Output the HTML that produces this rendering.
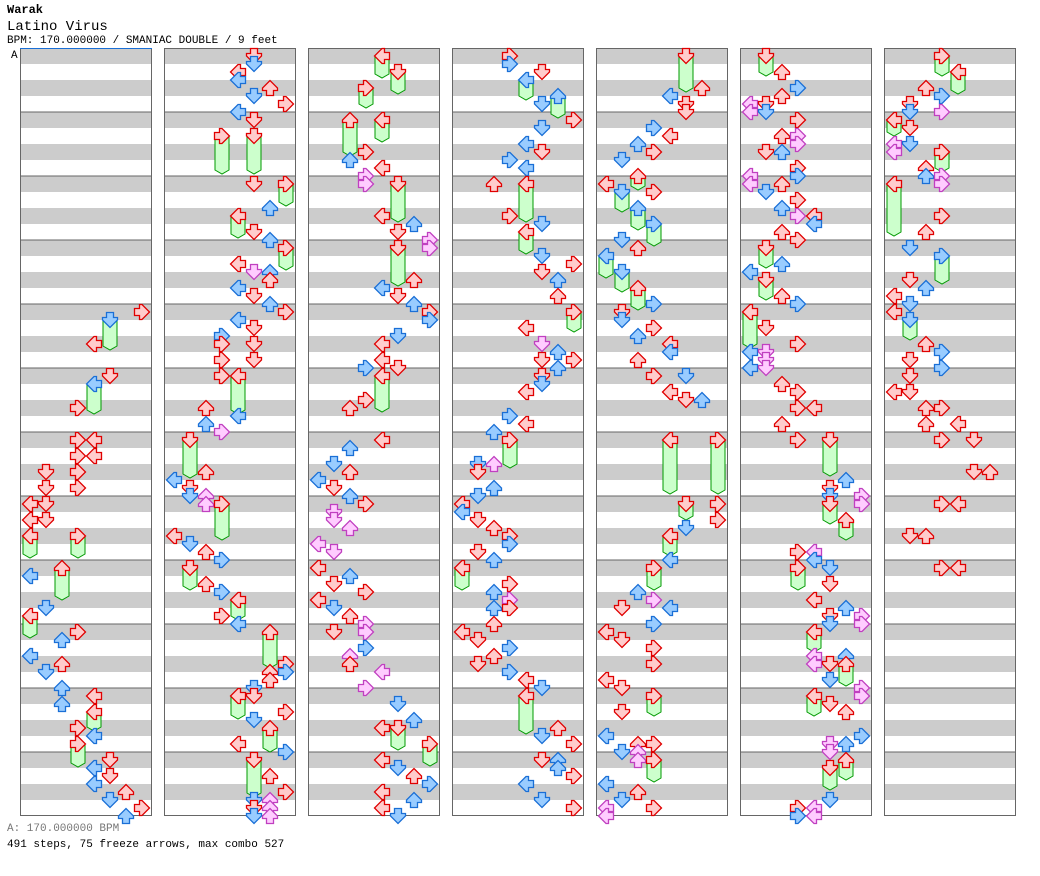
<!DOCTYPE html>
<html><head><meta charset="utf-8"><style>
body{margin:0;background:#fff;width:1040px;height:876px;overflow:hidden;font-family:"Liberation Mono",monospace;}
.t{position:absolute;left:7px;white-space:pre;color:#000}
</style></head><body>
<div class="t" style="top:3px;font-size:12px;font-weight:bold">Warak</div>
<div class="t" style="top:19px;font-size:14px">Latino Virus</div>
<div class="t" style="top:35px;font-size:11px">BPM: 170.000000 / SMANIAC DOUBLE / 9 feet</div>
<div class="t" style="top:823px;font-size:11px;color:#777">A: 170.000000 BPM</div>
<div class="t" style="top:839px;font-size:11px">491 steps, 75 freeze arrows, max combo 527</div>
<svg id="s" width="1040" height="876" style="position:absolute;left:0;top:0" xmlns="http://www.w3.org/2000/svg"></svg>
<script>
var P=[
"7,304,r;5,312,b,350;4,336,r;5,368,r;4,376,b,414;3,400,r;3,432,r;4,432,r;3,448,r;4,448,r;1,464,r;3,464,r;1,480,r;3,480,r;0,496,r;1,496,r;0,512,r;1,512,r;0,528,r,558;3,528,r,558;0,568,b;2,560,r,600;1,600,b;0,608,r,638;3,624,r;2,632,b;0,648,b;2,656,r;1,664,b;2,680,b;2,696,b;4,688,r;4,704,r,731;3,720,r;4,728,b;3,736,r,767;5,752,r;4,760,b;5,768,r;4,776,b;6,784,r;5,792,b;7,800,r;6,808,b",
"5,48,r;5,56,b;4,64,r;4,72,b;6,80,r;5,88,b;7,96,r;4,104,b;5,112,r;3,128,r,174;5,128,r,174;5,176,r;7,176,r,206;6,200,b;4,208,r,238;5,224,r;6,232,b;7,240,r,270;4,256,r;5,264,p;6,264,b;6,272,r;4,280,b;5,288,r;6,296,b;7,304,r;4,312,b;5,320,r;3,328,b;3,336,r;5,336,r;3,352,r;5,352,r;3,368,r;4,368,r,414;2,400,r;4,408,b;2,416,b;3,424,p;1,432,r,478;2,464,r;0,472,b;1,480,r;1,488,b;2,488,p;2,496,p;3,496,r,540;0,528,r;1,536,b;2,544,r;3,552,b;1,560,r,590;2,576,r;3,584,b;4,592,r,620;3,608,r;4,616,b;6,624,r,668;7,656,r;6,664,r;7,664,b;6,672,r;5,680,b;5,688,r;4,688,r,719;7,704,r;5,712,b;6,720,r,752;4,736,r;7,744,b;5,752,r,797;6,768,r;7,784,r;5,792,b;5,800,r;5,808,b;6,792,p;6,800,p;6,808,p",
"4,48,r,78;5,64,r,94;3,80,r,108;2,112,r,156;4,112,r,142;2,152,b;3,144,r;4,160,r;3,168,p;3,176,p;5,176,r,222;4,208,r;6,216,b;5,224,r;7,232,p;7,240,p;5,240,r,286;6,272,r;4,280,b;5,288,r;6,296,b;7,304,r;7,312,b;5,328,b;4,336,r;4,352,r;3,360,b;5,360,r;4,368,r,412;3,392,r;2,400,r;4,432,r;2,440,b;1,456,b;2,464,r;0,472,b;1,480,r;2,488,b;3,496,r;1,504,p;1,512,p;2,520,p;0,536,p;1,544,p;0,560,r;2,568,b;1,576,r;3,584,r;0,592,r;1,600,b;2,608,r;3,616,p;1,624,r;3,624,p;3,640,b;2,648,p;2,656,r;4,664,p;3,680,p;5,696,b;6,712,b;4,720,r;5,720,r,750;7,736,r,766;4,752,r;5,760,b;6,768,r;7,776,b;4,784,r;6,792,b;4,800,r;5,808,b",
"3,48,r;3,56,b;5,64,r;4,72,b,100;6,88,b,118;5,96,b;7,112,r;5,120,b;4,136,b;5,144,r;3,152,b;4,160,b;2,176,r;4,176,r,222;3,208,r;5,216,b;4,224,r,254;5,248,b;7,256,r;5,264,r;6,272,b;6,288,r;7,304,r,332;4,320,r;5,336,p;6,344,b;5,352,r;7,352,r;6,360,b;5,368,r;5,376,b;4,384,r;3,408,b;4,416,r;2,424,b;3,432,r,468;1,456,b;2,456,p;1,464,r;2,480,b;1,488,b;0,496,r;0,504,b;1,512,r;2,520,r;3,528,r;3,536,b;1,544,r;2,552,b;0,560,r,590;3,576,r;2,584,b;3,592,p;2,600,b;3,600,r;2,616,r;0,624,r;1,632,r;3,640,b;2,648,r;1,656,r;3,664,b;4,672,r;5,680,b;4,688,r,734;6,720,r;5,728,b;7,736,r;5,752,r;6,752,b;6,760,b;7,768,r;4,776,b;5,792,b;7,800,r",
"5,48,r,92;6,80,r;4,88,b;5,96,r;5,104,r;3,120,b;4,128,r;2,136,b;3,144,r;1,152,b;2,168,r,190;0,176,r;1,184,b,212;3,184,r;2,200,b,230;3,216,b,246;1,232,b;2,240,r;0,248,b,278;1,264,b,292;2,280,r,310;3,296,b;1,304,r;1,312,b;3,320,r;2,328,b;4,336,r;4,344,b;2,352,r;3,368,r;5,368,b;4,384,r;5,392,r;6,392,b;4,432,r,494;7,432,r,494;5,496,r,520;7,496,r;7,512,r;5,520,b;4,528,r,556;4,552,b;3,560,r,590;2,584,b;3,592,p;1,600,r;4,600,b;3,616,b;0,624,r;1,632,r;3,640,r;3,656,r;0,672,r;1,680,r;3,688,r,716;1,704,r;0,728,b;2,736,r;3,736,r;1,744,b;2,744,p;2,752,p;3,752,r,782;0,776,b;2,784,r;1,792,b;3,800,r;0,800,p;0,808,p",
"1,48,r,76;2,64,r;3,80,b;2,88,r;0,96,p;0,104,p;1,96,r;1,104,b;3,112,r;2,128,r;3,128,p;3,136,p;1,144,r;2,144,b;3,160,r;3,168,b;0,168,p;0,176,p;2,176,r;1,184,b;3,192,r;2,200,b;3,208,p;4,208,r;4,216,b;2,224,r;3,232,r;1,240,r,268;2,256,b;0,264,b;1,272,r,300;2,288,r;3,296,b;0,304,r,348;1,320,r;3,336,r;0,344,b;0,360,b;1,344,p;1,352,p;1,360,p;2,376,r;3,384,r;3,400,r;4,400,r;2,416,r;3,432,r;5,432,r,476;6,472,b;5,480,r;5,488,b;7,488,p;7,496,p;5,496,r,524;6,512,r,540;3,544,r;4,544,p;4,552,b;3,560,r,590;5,560,b;5,576,r;4,592,r;6,600,b;5,608,r;7,608,p;7,616,p;5,616,b;4,624,r,652;4,648,p;4,656,p;6,648,b;5,656,r;6,656,r,686;5,672,b;7,680,p;7,688,p;4,688,r,716;5,696,r;6,704,r;7,728,b;6,736,b;5,736,p;5,744,p;6,752,r,780;5,760,r,790;5,792,b;3,800,r;3,808,b;4,800,p;4,808,p",
"3,48,r,76;4,64,r,94;2,80,r;3,88,b;1,96,r;1,104,b;3,104,p;0,112,r,136;1,120,r;0,136,p;0,144,p;1,136,b;3,144,r,172;2,160,r;2,168,b;3,168,p;3,176,p;0,176,r,236;3,208,r;2,224,r;1,240,b;3,248,b,284;1,272,r;2,280,b;0,288,r;1,296,b;0,304,r;1,312,b,340;2,336,r;3,344,b;1,352,r;3,360,b;1,368,r;0,384,r;1,384,r;2,400,r;3,400,r;2,416,r;4,416,r;3,432,r;5,432,r;5,464,r;6,464,r;3,496,r;4,496,r;1,528,r;2,528,r;3,560,r;4,560,r"
];
var s=document.getElementById('s'),h='';
var C={r:['#ffcccc','#e00000'],b:['#99ccff','#1a6fd6'],p:['#ffccff','#c040c0']};
var rot=[90,0,180,-90];
for(var p=0;p<7;p++){var x0=20+144*p;
 h+='<rect x="'+x0+'" y="48" width="132" height="768" fill="#fff"/>';
 for(var m=0;m<12;m++){var y=48+64*m;h+='<rect x="'+x0+'" y="'+y+'" width="132" height="16" fill="#cccccc"/><rect x="'+x0+'" y="'+(y+32)+'" width="132" height="16" fill="#cccccc"/>';
  if(m>0)h+='<line x1="'+x0+'" x2="'+(x0+132)+'" y1="'+y+'" y2="'+y+'" stroke="#666"/>';}
 h+='<rect x="'+(x0+.5)+'" y="48.5" width="131" height="767" fill="none" stroke="#666"/>';
}
h+='<line x1="20" x2="152" y1="48.5" y2="48.5" stroke="#1a6fd6"/><text x="11" y="58" font-family="Liberation Mono" font-size="11">A</text>';
var bodies='',heads='';
for(var p=0;p<7;p++){var x0=20+144*p;P[p].split(';').forEach(function(e){var a=e.split(','),l=+a[0],t=+a[1],c=C[a[2]];var cx=x0+10+16*l;
 if(a[3]){var e2=+a[3];bodies+='<path d="M'+(cx-7)+','+(t+8)+'H'+(cx+7)+'V'+(e2-4)+'L'+cx+','+e2+'L'+(cx-7)+','+(e2-4)+'Z" fill="#ccffcc" stroke="#009900"/>';}
 heads+='<polygon transform="translate('+cx+','+(t+8)+') rotate('+rot[l%4]+')" points="-3.5,-7.5 3.5,-7.5 3.5,-2.5 7.5,-2.5 7.5,0 0,7.5 -7.5,0 -7.5,-2.5 -3.5,-2.5" fill="'+c[0]+'" stroke="'+c[1]+'" stroke-width="1.3" stroke-linejoin="miter"/>';
});}
s.innerHTML=h+bodies+heads;
</script>
</body></html>
